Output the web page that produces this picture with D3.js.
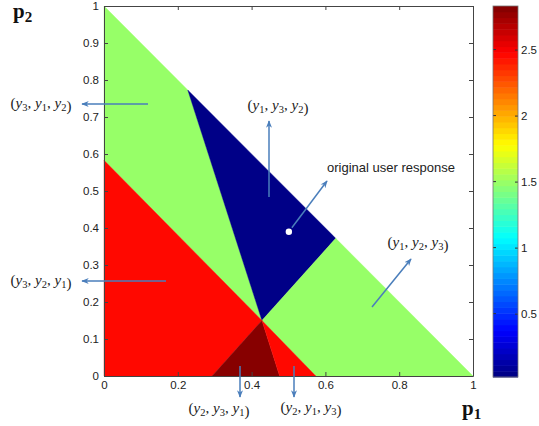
<!DOCTYPE html>
<html>
<head>
<meta charset="utf-8">
<script src="https://cdn.jsdelivr.net/npm/d3@7/dist/d3.min.js"></script>
<style>
  html,body{margin:0;padding:0;background:#fff;}
  svg{display:block;font-family:"Liberation Sans",Arial,sans-serif;}
  .math{font-family:"Liberation Serif","DejaVu Serif",serif;font-size:15px;fill:#222;}
</style>
</head>
<body>
<svg id="chart" width="539" height="426"></svg>
<script>
// ---- data -------------------------------------------------------------
const regionLabels = ['(y3,y1,y2)','(y1,y3,y2)','(y1,y2,y3)','(y3,y2,y1)','(y2,y3,y1)','(y2,y1,y3)'];
const regionValues = [1.49, 0.05, 1.49, 2.46, 2.81, 2.46];   // colormap value of each region
const regionPolygons = [
  [[0,1],[0.227,0.773],[0.428,0.15],[0,0.583]],
  [[0.227,0.773],[0.628,0.372],[0.428,0.15]],
  [[0.428,0.15],[0.628,0.372],[1,0],[0.574,0]],
  [[0,0.583],[0.428,0.15],[0.293,0],[0,0]],
  [[0.428,0.15],[0.476,0],[0.293,0]],
  [[0.428,0.15],[0.574,0],[0.476,0]]
];
const userResponse = [0.501, 0.39];
const p1Ticks = [0,0.2,0.4,0.6,0.8,1];
const p1TickLabels = ['0','0.2','0.4','0.6','0.8','1'];
const p2Ticks = [0,0.1,0.2,0.3,0.4,0.5,0.6,0.7,0.8,0.9,1];
const p2TickLabels = ['0','0.1','0.2','0.3','0.4','0.5','0.6','0.7','0.8','0.9','1'];
const cbarDomain = [0.02, 2.83];
const cbarTicks = [0.5,1,1.5,2,2.5];
const cbarTickLabels = ['0.5','1','1.5','2','2.5'];

// ---- helpers ----------------------------------------------------------
const NC=64;
const clamp=v=>Math.max(0,Math.min(1,v));
function jet(t){
  const r=clamp(Math.min(4*t-1.5,-4*t+4.5)), g=clamp(Math.min(4*t-0.5,-4*t+3.5)), b=clamp(Math.min(4*t+0.5,-4*t+2.5));
  return d3.rgb(r*255,g*255,b*255).formatHex();
}
const colorOf = v=>{
  const t=(v-cbarDomain[0])/(cbarDomain[1]-cbarDomain[0]);
  const k=Math.max(0,Math.min(NC-1,Math.floor(t*NC)));
  return jet((k+0.5)/NC);
};

const svg=d3.select('#chart');
const x=d3.scaleLinear().domain([0,1]).range([104,473]);
const y=d3.scaleLinear().domain([0,1]).range([376,6]);
const axisCol='#444';
const FS=11.5;

// regions
svg.append('g').selectAll('path').data(regionPolygons).join('path')
  .attr('d',d=>'M'+d.map(p=>[x(p[0]),y(p[1])].join(',')).join('L')+'Z')
  .attr('fill',(d,i)=>colorOf(regionValues[i]))
  .attr('stroke',(d,i)=>colorOf(regionValues[i])).attr('stroke-width',0.4);

// axes (MATLAB box, inward ticks)
const tl=4;
const gx=svg.append('g').attr('transform',`translate(0,${y(0)})`)
  .call(d3.axisBottom(x).tickValues(p1Ticks).tickFormat((d,i)=>p1TickLabels[i]).tickSizeInner(-tl).tickSizeOuter(0).tickPadding(5));
const gy=svg.append('g').attr('transform',`translate(${x(0)},0)`)
  .call(d3.axisLeft(y).tickValues(p2Ticks).tickFormat((d,i)=>p2TickLabels[i]).tickSizeInner(-tl).tickSizeOuter(0).tickPadding(5));
const gt=svg.append('g').attr('transform',`translate(0,${y(1)})`)
  .call(d3.axisTop(x).tickValues(p1Ticks).tickFormat('').tickSizeInner(-tl).tickSizeOuter(0));
const gr=svg.append('g').attr('transform',`translate(${x(1)},0)`)
  .call(d3.axisRight(y).tickValues(p2Ticks).tickFormat('').tickSizeInner(-tl).tickSizeOuter(0));
[gx,gy,gt,gr].forEach(g=>{
  g.select('.domain').attr('stroke',axisCol);
  g.selectAll('.tick line').attr('stroke',axisCol);
  g.selectAll('.tick text').attr('font-family','"Liberation Sans",Arial,sans-serif').attr('font-size',FS).attr('fill','#222');
});

// colorbar
const cb=d3.scaleLinear().domain(cbarDomain).range([377,6]);
const cbx0=493, cbx1=518;
const levels=d3.range(NC);
const step=(cbarDomain[1]-cbarDomain[0])/NC;
svg.append('g').selectAll('rect').data(levels).join('rect')
  .attr('x',cbx0).attr('width',cbx1-cbx0)
  .attr('y',k=>cb(cbarDomain[0]+(k+1)*step)).attr('height',k=>cb(cbarDomain[0]+k*step)-cb(cbarDomain[0]+(k+1)*step)+0.5)
  .attr('fill',k=>jet((k+0.5)/NC));
const gc=svg.append('g').attr('transform',`translate(${cbx1},0)`)
  .call(d3.axisRight(cb).tickValues(cbarTicks).tickFormat((d,i)=>cbarTickLabels[i]).tickSizeInner(-3).tickSizeOuter(0).tickPadding(3));
gc.select('.domain').remove();
gc.selectAll('.tick line').attr('stroke','#333');
gc.selectAll('.tick text').attr('font-size',FS).attr('fill','#222');
svg.append('g').selectAll('line').data(cbarTicks).join('line')
  .attr('x1',cbx0).attr('x2',cbx0+3).attr('y1',d=>cb(d)).attr('y2',d=>cb(d)).attr('stroke','#333');
svg.append('rect').attr('x',cbx0).attr('y',cb(cbarDomain[1])).attr('width',cbx1-cbx0)
  .attr('height',cb(cbarDomain[0])-cb(cbarDomain[1])).attr('fill','none').attr('stroke','#777').attr('stroke-width',0.8);

// axis labels
function boldP(tx,ty,sub){
  const t=svg.append('text').attr('x',tx).attr('y',ty)
    .attr('font-family','"Liberation Serif","DejaVu Serif",serif').attr('font-weight','bold').attr('font-size',21).attr('fill','#111');
  t.append('tspan').text('p');
  t.append('tspan').attr('font-size',15).attr('dy',4).text(sub);
}
boldP(13,18,'2');
boldP(462,415,'1');

// annotations
const defs=svg.append('defs');
defs.append('marker').attr('id','ah').attr('viewBox','0 0 10 10').attr('refX',9).attr('refY',5)
  .attr('markerWidth',5).attr('markerHeight',5).attr('orient','auto-start-reverse')
  .append('path').attr('d','M0,1 L10,5 L0,9 L3,5 Z').attr('fill','#4a7ebb');
function arrow(x1,y1,x2,y2){
  svg.append('line').attr('x1',x1).attr('y1',y1).attr('x2',x2).attr('y2',y2)
    .attr('stroke','#4a7ebb').attr('stroke-width',1.5).attr('marker-end','url(#ah)');
}
function mathLabel(label,cx,cy){
  const idx=label.slice(1,-1).split(',').map(s=>s.slice(1));
  const t=svg.append('text').attr('class','math').attr('x',cx).attr('y',cy).attr('text-anchor','middle');
  t.append('tspan').text('(');
  idx.forEach((n,i)=>{
    t.append('tspan').attr('font-style','italic').text('y');
    t.append('tspan').attr('font-size',10.5).attr('dy',3).text(n);
    t.append('tspan').attr('dy',-3).text(i<idx.length-1?', ':'');
  });
  t.append('tspan').text(')');
}
mathLabel(regionLabels[0],41,108); arrow(148,104,82,104);
mathLabel(regionLabels[3],41,285); arrow(166,281,82,281);
mathLabel(regionLabels[1],278,110); arrow(269,197,269,121);
mathLabel(regionLabels[2],418,247); arrow(372,307,411,259);
mathLabel(regionLabels[4],219,413); arrow(240,366,240,397);
mathLabel(regionLabels[5],311,412); arrow(294,366,294,397);

svg.append('circle').attr('cx',x(userResponse[0])).attr('cy',y(userResponse[1])).attr('r',3.2).attr('fill','#fff');
arrow(x(userResponse[0])+3,y(userResponse[1])-4,327,181);
svg.append('text').attr('x',327).attr('y',172).attr('font-size',13).attr('fill','#222').text('original user response');
</script>
</body>
</html>
